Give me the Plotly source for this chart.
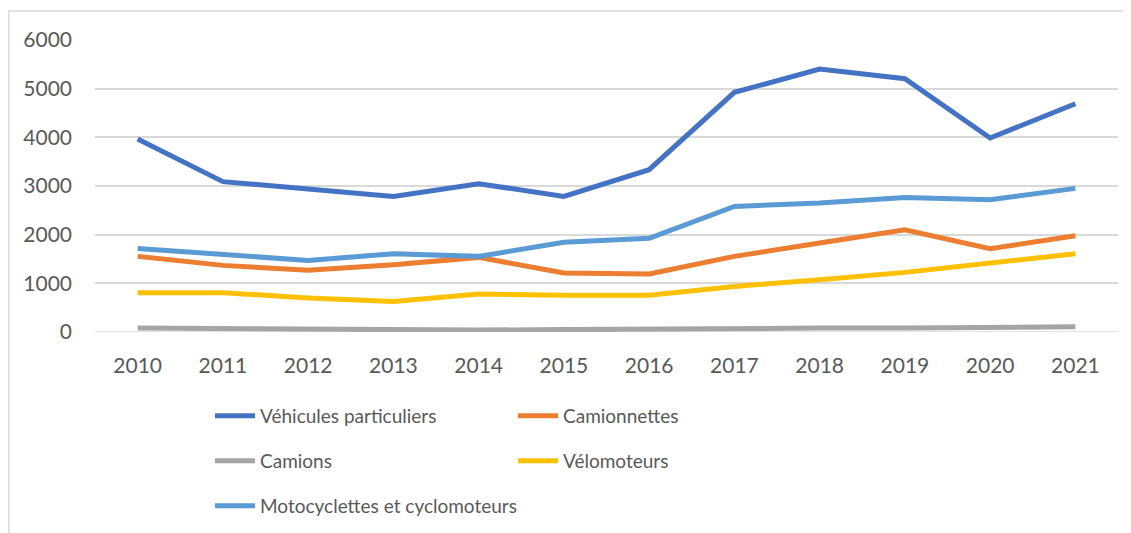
import plotly.graph_objects as go

years = ["2010", "2011", "2012", "2013", "2014", "2015", "2016", "2017", "2018", "2019", "2020", "2021"]
vehicules_particuliers = [3966, 3089, 2938, 2786, 3047, 2786, 3335, 4924, 5404, 5205, 3986, 4691]
camionnettes = [1554, 1369, 1270, 1383, 1533, 1212, 1192, 1554, 1829, 2102, 1712, 1979]
camions = [80, 70, 50, 30, 40, 50, 60, 90, 80, 80, 100, 110]
velomoteurs = [808, 808, 700, 629, 781, 753, 753, 937, 1075, 1225, 1418, 1609]
motocyclettes = [1718, 1588, 1470, 1609, 1554, 1842, 1924, 2581, 2650, 2766, 2719, 2951]

series = [
    ("Véhicules particuliers", vehicules_particuliers, "#4472C4", "legend"),
    ("Camionnettes", camionnettes, "#ED7D31", "legend"),
    ("Camions", camions, "#A5A5A5", "legend2"),
    ("Vélomoteurs", velomoteurs, "#FFC000", "legend2"),
    ("Motocyclettes et cyclomoteurs", motocyclettes, "#5B9BD5", "legend3"),
]

FONT = "Lato, Open Sans, sans-serif"
TXT = "#595959"

fig = go.Figure()
for name, vals, color, lg in series:
    fig.add_trace(go.Scatter(x=years, y=vals, name=name, mode="lines",
                             line=dict(color=color, width=5), legend=lg))

# page offset of 8px (body margin)
OFF = 8
W, H = 1131 - OFF, 533 - OFF
PL, PR, PT, PB = 95, 1118, 40, 332  # plot area in screen px
L, R, T, B = PL - OFF, 1131 - PR, PT - OFF, 533 - PB
pw, ph = PR - PL, PB - PT

def px(x):
    return (x - PL) / pw

def py(y):
    return (PB - y) / ph

leg_common = dict(orientation="h", xanchor="left", yanchor="middle",
                  font=dict(family=FONT, size=19, color=TXT),
                  entrywidthmode="pixels",
                  bgcolor="rgba(0,0,0,0)", itemwidth=40)

fig.update_layout(
    width=W, height=H,
    margin=dict(l=L, r=R, t=T, b=B, autoexpand=False),
    paper_bgcolor="white", plot_bgcolor="white",
    font=dict(family=FONT, size=19, color=TXT),
    xaxis=dict(type="category", range=[-0.5, 11.5], showgrid=False, showline=False,
               zeroline=False, ticks="", ticklabelstandoff=19, automargin=False,
               tickfont=dict(family=FONT, size=21, color=TXT)),
    yaxis=dict(range=[0, 6000], dtick=1000, showgrid=True, gridcolor="#D9D9D9",
               gridwidth=1.5, zeroline=False, showline=False, ticks="",
               ticklabelstandoff=22, automargin=False,
               tickfont=dict(family=FONT, size=21, color=TXT)),
    legend=dict(x=px(210), y=py(416), entrywidth=248, **leg_common),
    legend2=dict(x=px(210), y=py(461), entrywidth=248, **leg_common),
    legend3=dict(x=px(210), y=py(506), entrywidth=400, **leg_common),
    showlegend=True,
    shapes=[
        dict(type="rect", xref="paper", yref="paper",
             x0=px(8.8), x1=px(1140), y0=py(545), y1=py(11),
             line=dict(color="#D9D9D9", width=1.4), fillcolor="rgba(0,0,0,0)", layer="below"),
        dict(type="line", xref="paper", yref="y", x0=0, x1=1, y0=0, y1=0,
             line=dict(color="#D9D9D9", width=1.5), layer="below"),
    ],
)

fig.write_html("out.html")
